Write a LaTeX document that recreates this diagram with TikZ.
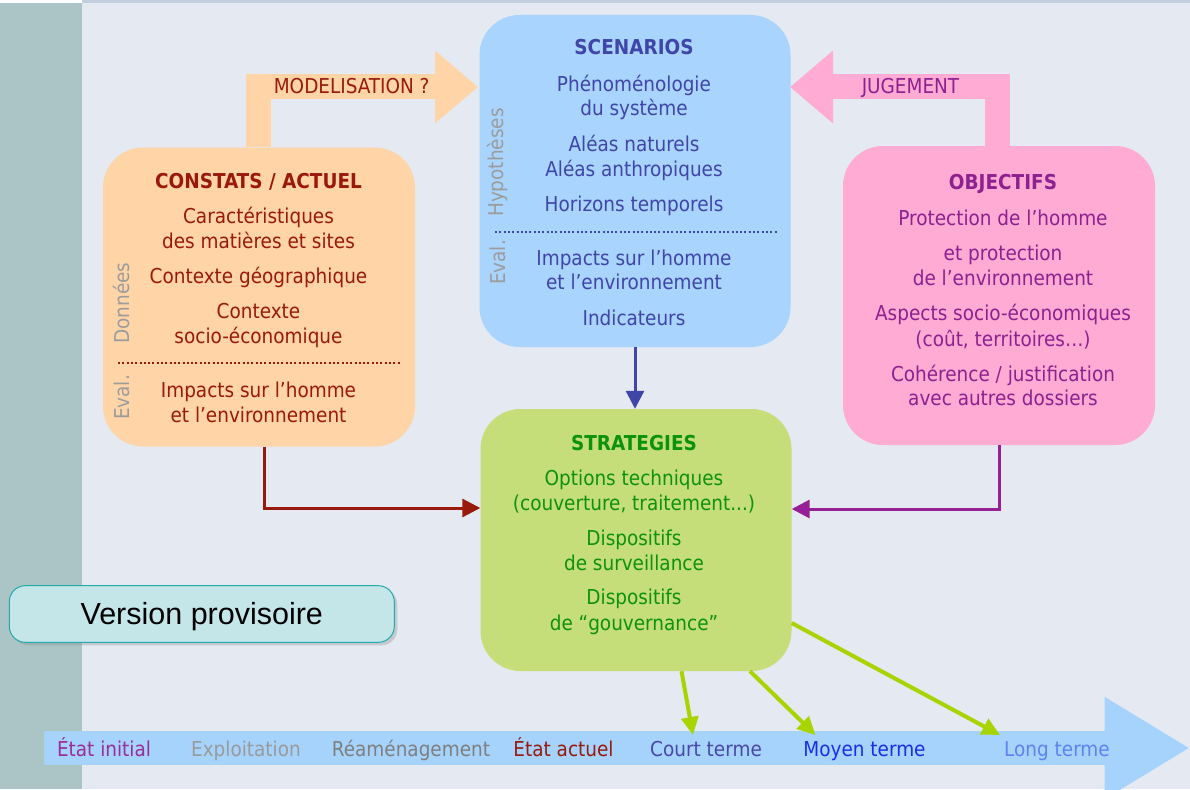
\documentclass[tikz,border=0pt]{standalone}
\usepackage{fontspec}
\setmainfont{DejaVu Sans Condensed}
\newfontfamily\versionfont{Liberation Sans}
\usetikzlibrary{arrows.meta,shadows}

\definecolor{pageBg}{HTML}{E4E9F2}
\definecolor{stripGrey}{HTML}{ABC5C6}
\definecolor{topBar}{HTML}{C3CEDF}
\definecolor{constatsFill}{HTML}{FFD5A8}
\definecolor{constatsText}{HTML}{991A0D}
\definecolor{scenariosFill}{HTML}{A8D4FD}
\definecolor{scenariosText}{HTML}{4045A8}
\definecolor{objectifsFill}{HTML}{FFABD3}
\definecolor{objectifsText}{HTML}{8E2090}
\definecolor{strategiesFill}{HTML}{C6DE7A}
\definecolor{strategiesText}{HTML}{0C920C}
\definecolor{sideGrey}{HTML}{9C9C9C}
\definecolor{connPurple}{HTML}{962096}
\definecolor{rayGreen}{HTML}{A8D400}
\definecolor{timeBlue}{HTML}{A6D3FC}
\definecolor{tInitial}{HTML}{9B2C9B}
\definecolor{tExploit}{HTML}{9A9A9A}
\definecolor{tReamen}{HTML}{7F7F7F}
\definecolor{tCourt}{HTML}{4848A8}
\definecolor{tMoyen}{HTML}{1530E8}
\definecolor{tLong}{HTML}{5B84F0}
\definecolor{versionFill}{HTML}{C4E6E8}
\definecolor{versionLine}{HTML}{22A9AB}

\tikzset{
  panel/.style={fill=#1, rounded corners=40pt, inner sep=0pt},
  txtline/.style={anchor=base, inner sep=0pt, font=\fontsize{20.5}{24}\selectfont},
  side/.style={txtline, anchor=center, text=sideGrey, rotate=90},
  dots/.style={draw=#1, line width=2pt, dash pattern=on 2pt off 2.3pt},
  conn/.style={draw=#1, line width=3pt, -{Triangle[length=18pt,width=18pt]}},
  fat/.style={draw=#1, line width=25pt, -{Triangle[length=43pt,width=70pt]}},
  ray/.style={draw=rayGreen, line width=4pt, -{Triangle[length=18pt,width=17pt]}},
  draft/.style={fill=versionFill, draw=versionLine, line width=1pt, rounded corners=16pt,
    drop shadow={opacity=0.3, shadow xshift=3pt, shadow yshift=-3pt},
    font=\versionfont\fontsize{30.5}{34}\selectfont, inner sep=0pt,
    text height=22pt, text depth=1pt}
}

\begin{document}
\begin{tikzpicture}[x=1pt, y=-1pt]
    \useasboundingbox (0,0) rectangle (1190,789);
    \clip (0,0) rectangle (1190,789);
    % page background
    \fill[pageBg] (0,0) rectangle (1190,789);
    \fill[stripGrey] (0,3.5) rectangle (82,789);
    \fill[topBar] (82,0) rectangle (1190,3.5);
    \fill[white] (0,0) rectangle (82,3.5);
    % time line
    \coordinate (timeStart) at (44,748);
    \coordinate (timeEnd) at (1190,748);
    \draw[line width=34pt, draw=timeBlue, -{Triangle[length=85.5pt,width=96pt]}] (timeStart) -- (timeEnd);
    \foreach \x/\t/\c [count=\i] in {104/{État initial}/tInitial, 246/Exploitation/tExploit,
        411/Réaménagement/tReamen, 563.5/{État actuel}/constatsText, 706/{Court terme}/tCourt,
        864.5/{Moyen terme}/tMoyen, 1057/{Long terme}/tLong}
      \node[txtline, text=\c] (t\i) at (\x,756) {\t};
    % constats
    \node[panel=constatsFill, minimum width=312pt, minimum height=299pt] (constats) at (259,297) {};
    \foreach \y/\t [count=\i] in {188/{\textbf{CONSTATS / ACTUEL}}, 223/Caractéristiques,
        248/{des matières et sites}, 283/{Contexte géographique}, 318.5/Contexte,
        343.5/socio-économique, 397/{Impacts sur l’homme}, 422/{et l’environnement}}
      \node[txtline, text=constatsText] (c\i) at (258.5,\y) {\t};
    \node[side] (cData) at (121.5,303) {Données};
    \node[side] (cEval) at (121.5,397.5) {Eval.};
    \coordinate (cDotL) at (118,362.5);
    \coordinate (cDotR) at (400,362.5);
    \draw[dots=constatsText] (cDotL) -- (cDotR);
    % scenarios
    \node[panel=scenariosFill, minimum width=311pt, minimum height=332pt] (scenarios) at (635,181) {};
    \foreach \y/\t [count=\i] in {55/{\textbf{SCENARIOS}}, 91.5/Phénoménologie, 116/{du système},
        151.5/{Aléas naturels}, 176/{Aléas anthropiques}, 211/{Horizons temporels},
        265/{Impacts sur l’homme}, 289.5/{et l’environnement}, 325/Indicateurs}
      \node[txtline, text=scenariosText] (s\i) at (634,\y) {\t};
    \node[side] (sHyp) at (497.5,162.5) {Hypothèses};
    \node[side] (sEval) at (497.5,262.5) {Eval.};
    \coordinate (sDotL) at (495,231.5);
    \coordinate (sDotR) at (777,231.5);
    \draw[dots=scenariosText] (sDotL) -- (sDotR);
    % objectifs
    \node[panel=objectifsFill, minimum width=312pt, minimum height=299pt] (objectifs) at (999,295.5) {};
    \foreach \y/\t [count=\i] in {189.5/{\textbf{OBJECTIFS}}, 225/{Protection de l’homme},
        260/{et protection}, 285/{de l’environnement}, 320/{Aspects socio-économiques},
        346/{(coût, territoires…)}, 381/{Cohérence / justification}, 405/{avec autres dossiers}}
      \node[txtline, text=objectifsText] (o\i) at (1003,\y) {\t};
    % strategies
    \node[panel=strategiesFill, minimum width=311pt, minimum height=262pt] (strategies) at (636,540) {};
    \foreach \y/\t [count=\i] in {450/{\textbf{STRATEGIES}}, 485/{Options techniques},
        510/{(couverture, traitement...)}, 545/Dispositifs, 570/{de surveillance},
        604.5/Dispositifs, 630/{de “gouvernance”}}
      \node[txtline, text=strategiesText] (g\i) at (634,\y) {\t};
    % modelisation / jugement
    \coordinate (modTip) at (478,87);
    \coordinate (jugTip) at (790,87);
    \draw[fat=constatsFill] ([xshift=-1pt]constats.north) |- (modTip);
    \draw[fat=objectifsFill] ([xshift=-2pt]objectifs.north) |- (jugTip);
    \node[txtline, text=constatsText] (modLabel) at (351.7,94) {MODELISATION ?};
    \node[txtline, text=objectifsText] (jugLabel) at (910.5,94) {JUGEMENT};
    % links into strategies
    \draw[conn=scenariosText] (scenarios.south) -- (scenarios.south |- strategies.north);
    \draw[conn=constatsText] (constats.south -| 264,0) |- (strategies.west |- 0,508);
    \draw[conn=connPurple] (objectifs.south) |- (strategies.east |- 0,509);
    % horizons
    \coordinate (courtTip) at (693,735);
    \coordinate (moyenTip) at (815.5,735);
    \coordinate (longTip) at (1000,735);
    \draw[ray] (strategies.south -| 681.5,0) -- (courtTip);
    \draw[ray] (strategies.south -| 750,0) -- (moyenTip);
    \draw[ray] (strategies.east |- 0,623) -- (longTip);
    % draft stamp
    \node[draft, minimum width=385pt, minimum height=56.6pt] (version) at (201.8,614) {Version provisoire};
  \end{tikzpicture}
\end{document}
